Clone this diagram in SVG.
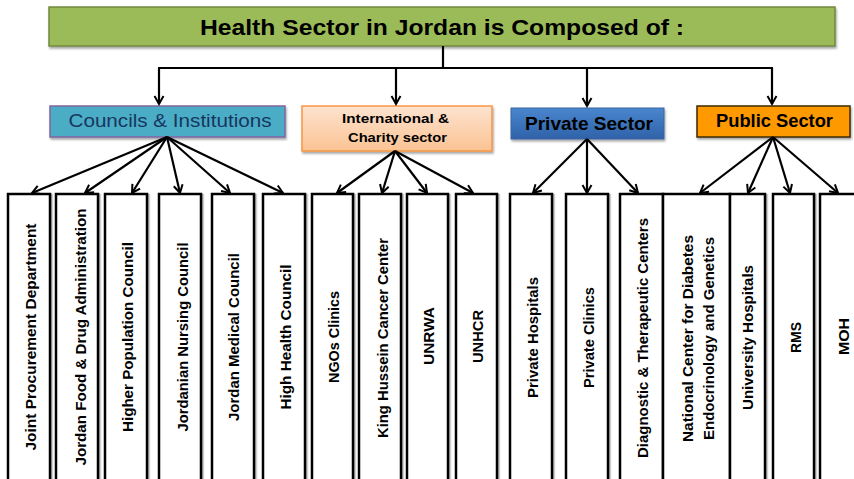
<svg xmlns="http://www.w3.org/2000/svg" width="854" height="479" viewBox="0 0 854 479">
<defs>
<marker id="arr" markerWidth="12" markerHeight="12" refX="9" refY="5" orient="auto" markerUnits="userSpaceOnUse" viewBox="0 0 12 10">
<path d="M1,0.5 L9,5 L1,9.5" fill="none" stroke="#000" stroke-width="2"/>
</marker>
<linearGradient id="gOrange" x1="0" y1="0" x2="0" y2="1">
<stop offset="0" stop-color="#FDE3CF"/>
<stop offset="1" stop-color="#FBC393"/>
</linearGradient>
<linearGradient id="gBlue" x1="0" y1="0" x2="0" y2="1">
<stop offset="0" stop-color="#4A86CE"/>
<stop offset="1" stop-color="#2F62A8"/>
</linearGradient>
<filter id="sh" x="-5%" y="-5%" width="115%" height="130%">
<feDropShadow dx="1" dy="2" stdDeviation="1" flood-color="#000" flood-opacity="0.35"/>
</filter>
<filter id="lsh" x="-10%" y="-5%" width="130%" height="115%">
<feDropShadow dx="1.5" dy="1" stdDeviation="0.6" flood-color="#000" flood-opacity="0.3"/>
</filter>
</defs>
<style>
text{font-family:"Liberation Sans",Arial,sans-serif;fill:#000}
.b{font-weight:bold}
.leaf rect{fill:#fff;stroke:#000;stroke-width:2.5;filter:url(#lsh)}
.leaf text{font-size:15px;font-weight:bold;text-anchor:middle}
.con line{stroke:#000;stroke-width:2.2;fill:none}
.arr{marker-end:url(#arr)}
</style>
<rect width="854" height="479" fill="#fff"/>

<g id="root">
<rect x="49" y="7" width="786" height="39" fill="#9BBB59" stroke="#71893F" stroke-width="1.5" filter="url(#sh)"/>
<text class="b" x="442" y="34.5" font-size="21.5" text-anchor="middle" textLength="484" lengthAdjust="spacingAndGlyphs">Health Sector in Jordan is Composed of :</text>
</g>

<g id="councils">
<rect x="50" y="106" width="235" height="31" fill="#4BACC6" stroke="#8064A2" stroke-width="1.5" filter="url(#sh)"/>
<text x="170" y="127" font-size="18.5" style="fill:#17375E" text-anchor="middle" textLength="203" lengthAdjust="spacingAndGlyphs">Councils &amp; Institutions</text>
</g>
<g id="international">
<rect x="302" y="106" width="190" height="45" fill="url(#gOrange)" stroke="#F79646" stroke-width="1.5" filter="url(#sh)"/>
<text class="b" x="395.5" y="122.5" font-size="13.5" text-anchor="middle" textLength="107" lengthAdjust="spacingAndGlyphs">International &amp;</text>
<text class="b" x="397.5" y="141.5" font-size="13.5" text-anchor="middle" textLength="99" lengthAdjust="spacingAndGlyphs">Charity sector</text>
</g>
<g id="private">
<rect x="511" y="108" width="153" height="31" fill="url(#gBlue)" stroke="#3A64A0" stroke-width="1" filter="url(#sh)"/>
<text class="b" x="589" y="129.5" font-size="17.5" text-anchor="middle" textLength="128" lengthAdjust="spacingAndGlyphs">Private Sector</text>
</g>
<g id="public">
<rect x="697" y="106" width="153" height="31" fill="#FF9900" stroke="#3F2A00" stroke-width="1.5" filter="url(#sh)"/>
<text class="b" x="774.5" y="126.5" font-size="17.5" text-anchor="middle" textLength="117" lengthAdjust="spacingAndGlyphs">Public Sector</text>
</g>

<g id="connectors" class="con">
<line x1="443" y1="46" x2="443" y2="68"/>
<line x1="158" y1="68" x2="773" y2="68"/>
<line class="arr" x1="159" y1="68" x2="159" y2="104"/>
<line class="arr" x1="396" y1="68" x2="396" y2="104"/>
<line class="arr" x1="587" y1="68" x2="587" y2="106"/>
<line class="arr" x1="772" y1="68" x2="772" y2="104"/>
<line class="arr" x1="167" y1="137" x2="32" y2="193"/>
<line class="arr" x1="167" y1="137" x2="85" y2="193"/>
<line class="arr" x1="167" y1="137" x2="132" y2="193"/>
<line class="arr" x1="167" y1="137" x2="180" y2="193"/>
<line class="arr" x1="167" y1="137" x2="230" y2="193"/>
<line class="arr" x1="167" y1="137" x2="283" y2="193"/>
<line class="arr" x1="395" y1="151" x2="337" y2="193"/>
<line class="arr" x1="395" y1="151" x2="382" y2="193"/>
<line class="arr" x1="395" y1="151" x2="427" y2="193"/>
<line class="arr" x1="395" y1="151" x2="473" y2="193"/>
<line class="arr" x1="587" y1="139" x2="533" y2="193"/>
<line class="arr" x1="587" y1="139" x2="587" y2="193"/>
<line class="arr" x1="587" y1="139" x2="638" y2="193"/>
<line class="arr" x1="773" y1="137" x2="700" y2="193"/>
<line class="arr" x1="773" y1="137" x2="748" y2="193"/>
<line class="arr" x1="773" y1="137" x2="790" y2="193"/>
<line class="arr" x1="773" y1="137" x2="838" y2="193"/>
</g>

<g id="leaf1" class="leaf"><rect x="8" y="194" width="42" height="300"/><text transform="translate(30.5,337) rotate(-90)" y="5.5" textLength="227" lengthAdjust="spacingAndGlyphs">Joint Procurement Department</text></g>
<g id="leaf2" class="leaf"><rect x="56" y="194" width="42" height="300"/><text transform="translate(80,337) rotate(-90)" y="5.5" textLength="257" lengthAdjust="spacingAndGlyphs">Jordan Food &amp; Drug Administration</text></g>
<g id="leaf3" class="leaf"><rect x="105" y="194" width="42" height="300"/><text transform="translate(127,337) rotate(-90)" y="5.5" textLength="190" lengthAdjust="spacingAndGlyphs">Higher Population Council</text></g>
<g id="leaf4" class="leaf"><rect x="159" y="194" width="42" height="300"/><text transform="translate(182,337) rotate(-90)" y="5.5" textLength="189" lengthAdjust="spacingAndGlyphs">Jordanian Nursing Council</text></g>
<g id="leaf5" class="leaf"><rect x="212" y="194" width="42" height="300"/><text transform="translate(233,337) rotate(-90)" y="5.5" textLength="168" lengthAdjust="spacingAndGlyphs">Jordan Medical Council</text></g>
<g id="leaf6" class="leaf"><rect x="263" y="194" width="42" height="300"/><text transform="translate(285,337) rotate(-90)" y="5.5" textLength="145" lengthAdjust="spacingAndGlyphs">High Health Council</text></g>
<g id="leaf7" class="leaf"><rect x="312" y="194" width="41" height="300"/><text transform="translate(333,337) rotate(-90)" y="5.5" textLength="92" lengthAdjust="spacingAndGlyphs">NGOs Clinics</text></g>
<g id="leaf8" class="leaf"><rect x="359" y="194" width="42" height="300"/><text transform="translate(382,338) rotate(-90)" y="5.5" textLength="200" lengthAdjust="spacingAndGlyphs">King Hussein Cancer Center</text></g>
<g id="leaf9" class="leaf"><rect x="407" y="194" width="41" height="300"/><text transform="translate(428,336) rotate(-90)" y="5.5" textLength="58" lengthAdjust="spacingAndGlyphs">UNRWA</text></g>
<g id="leaf10" class="leaf"><rect x="456" y="194" width="41" height="300"/><text transform="translate(477,336.5) rotate(-90)" y="5.5" textLength="53" lengthAdjust="spacingAndGlyphs">UNHCR</text></g>
<g id="leaf11" class="leaf"><rect x="510" y="194" width="42" height="300"/><text transform="translate(532,337.5) rotate(-90)" y="5.5" textLength="121" lengthAdjust="spacingAndGlyphs">Private Hospitals</text></g>
<g id="leaf12" class="leaf"><rect x="566" y="194" width="42" height="300"/><text transform="translate(588,337.5) rotate(-90)" y="5.5" textLength="101" lengthAdjust="spacingAndGlyphs">Private Clinics</text></g>
<g id="leaf13" class="leaf"><rect x="620" y="194" width="43" height="300"/><text transform="translate(642,338) rotate(-90)" y="5.5" textLength="240" lengthAdjust="spacingAndGlyphs">Diagnostic &amp; Therapeutic Centers</text></g>
<g id="leaf14" class="leaf"><rect x="663" y="194" width="67" height="300"/><text transform="translate(687,338.5) rotate(-90)" y="5.5" textLength="207" lengthAdjust="spacingAndGlyphs">National Center for Diabetes</text><text transform="translate(708,338.5) rotate(-90)" y="5.5" textLength="203" lengthAdjust="spacingAndGlyphs">Endocrinology and Genetics</text></g>
<g id="leaf15" class="leaf"><rect x="730" y="194" width="35" height="300"/><text transform="translate(747,337.5) rotate(-90)" y="5.5" textLength="145" lengthAdjust="spacingAndGlyphs">University Hospitals</text></g>
<g id="leaf16" class="leaf"><rect x="773" y="194" width="41" height="300"/><text transform="translate(795,337.5) rotate(-90)" y="5.5" textLength="31" lengthAdjust="spacingAndGlyphs">RMS</text></g>
<g id="leaf17" class="leaf"><rect x="820" y="194" width="42" height="300"/><text transform="translate(843,336.5) rotate(-90)" y="5.5" textLength="37" lengthAdjust="spacingAndGlyphs">MOH</text></g>
</svg>
